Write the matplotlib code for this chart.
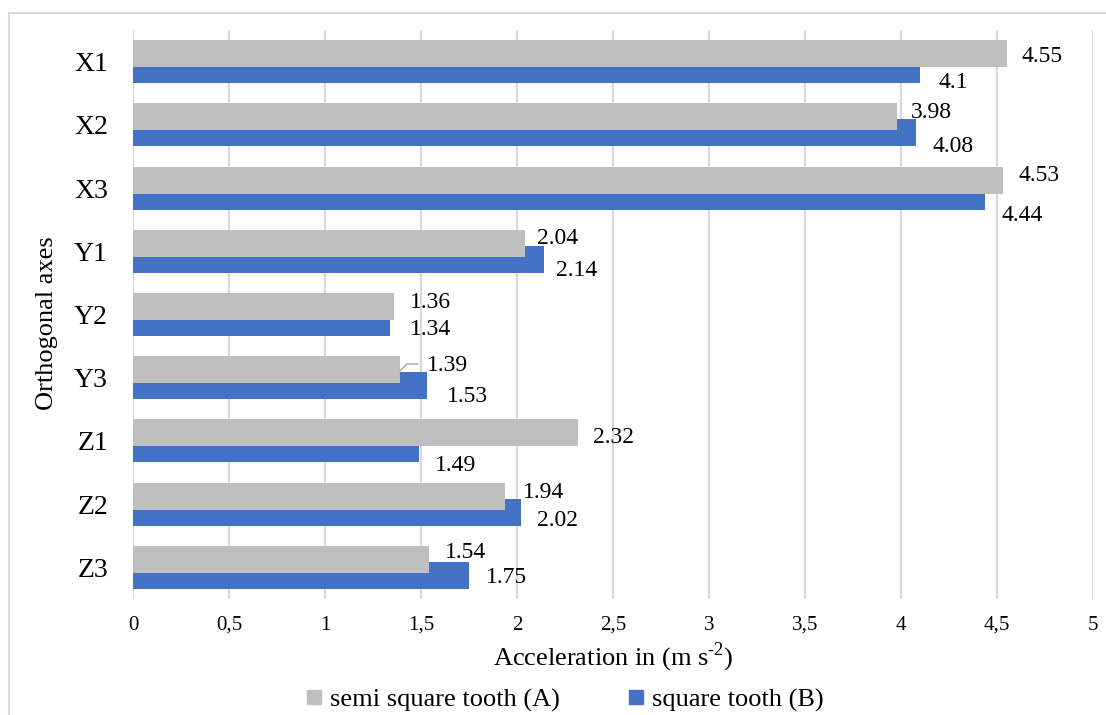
import numpy as np
import matplotlib
matplotlib.use("Agg")
import matplotlib.pyplot as plt
from matplotlib.patches import Rectangle
from matplotlib.lines import Line2D

# ------------ data -----------------
categories = ['X1', 'X2', 'X3', 'Y1', 'Y2', 'Y3', 'Z1', 'Z2', 'Z3']
semi_square = [4.55, 3.98, 4.53, 2.04, 1.36, 1.39, 2.32, 1.94, 1.54]   # (A)
square = [4.10, 4.08, 4.44, 2.14, 1.34, 1.53, 1.49, 2.02, 1.75]        # (B)
xticks = [0, 0.5, 1, 1.5, 2, 2.5, 3, 3.5, 4, 4.5, 5]
xtick_labels = ['0', '0,5', '1', '1,5', '2', '2,5', '3', '3,5', '4', '4,5', '5']

# label offsets (pixels, +dy = down) like the hand-placed excel labels
a_dx = [15, 14, 16, 12, 16, 27, 15, 17, 16]
a_dy = [0, -7, -7, -7, -7, -7, 2, -6, -9]
b_dx = [18, 16, 16, 12, 20, 20, 16, 16, 17]
b_dy = [10, 11, 17, 9, 5, 8, 14, 6, 0]

gray = '#BFBFBF'
blue = '#4472C4'
grid = '#D9D9D9'

plt.rcParams['font.family'] = ['Liberation Serif', 'DejaVu Serif']
plt.rcParams['mathtext.fontset'] = 'custom'
plt.rcParams['mathtext.rm'] = 'Liberation Serif'

fig = plt.figure(figsize=(11.06, 7.15), dpi=100)
ax = fig.add_axes([133/1106, 1 - 599/715, 960/1106, 569/715])

ind = np.arange(len(categories))
h = 0.427
off = 0.126

barsB = ax.barh(ind + off, square, h, color=blue, zorder=2)
barsA = ax.barh(ind - off, semi_square, h, color=gray, zorder=3)

ax.set_ylim(len(categories) - 0.5, -0.5)
ax.set_xlim(0, 5)
ax.set_xticks(xticks)
ax.set_xticklabels(xtick_labels, fontsize=15)
ax.set_yticks(ind)
ax.set_yticklabels(categories, fontsize=20)
ax.tick_params(axis='x', length=0, pad=12)
ax.tick_params(axis='y', length=0, pad=18)
for s in ax.spines.values():
    s.set_visible(False)
ax.grid(axis='x', color=grid, linewidth=1.6, zorder=0)
ax.set_axisbelow(True)

ax.set_xlabel('Acceleration in (m s$^{\\mathregular{\\text{-}2}}$)', fontsize=19, labelpad=4)
ax.set_ylabel('Orthogonal axes', fontsize=19)
ax.yaxis.set_label_coords(-0.078, 0.485)

# value labels
for i in range(len(categories)):
    ax.annotate('%g' % semi_square[i], xy=(semi_square[i], i - off),
                xytext=(a_dx[i], -a_dy[i]), textcoords='offset pixels',
                ha='left', va='center_baseline', fontsize=17)
    ax.annotate('%g' % square[i], xy=(square[i], i + off),
                xytext=(b_dx[i], -b_dy[i]), textcoords='offset pixels',
                ha='left', va='center_baseline', fontsize=17)

# leader line for the 1.39 label
k = categories.index('Y3')
ax.annotate('', xy=(semi_square[k], k - off + 0.02), xytext=(18, 7), textcoords='offset pixels',
            arrowprops=dict(arrowstyle='-', color='#A6A6A6', lw=1,
                            connectionstyle='angle,angleA=0,angleB=45,rad=0',
                            shrinkA=0, shrinkB=0))

# legend
handles = [Line2D([], [], marker='s', linestyle='', color=gray, markersize=10),
           Line2D([], [], marker='s', linestyle='', color=blue, markersize=10)]
fig.legend(handles, ['semi square tooth (A)', 'square tooth (B)'], loc='center',
           bbox_to_anchor=(562/1106, 1 - 700/715), ncol=2, frameon=False,
           fontsize=19, handletextpad=0.1, columnspacing=2.4, handlelength=1.0)

# outer chart frame
fig.add_artist(Rectangle((9/1106, -0.1), 1.2, 1.1 - 12.5/715, transform=fig.transFigure,
                         fill=False, edgecolor=grid, linewidth=1.5))

fig.savefig('out.png', dpi=100)
